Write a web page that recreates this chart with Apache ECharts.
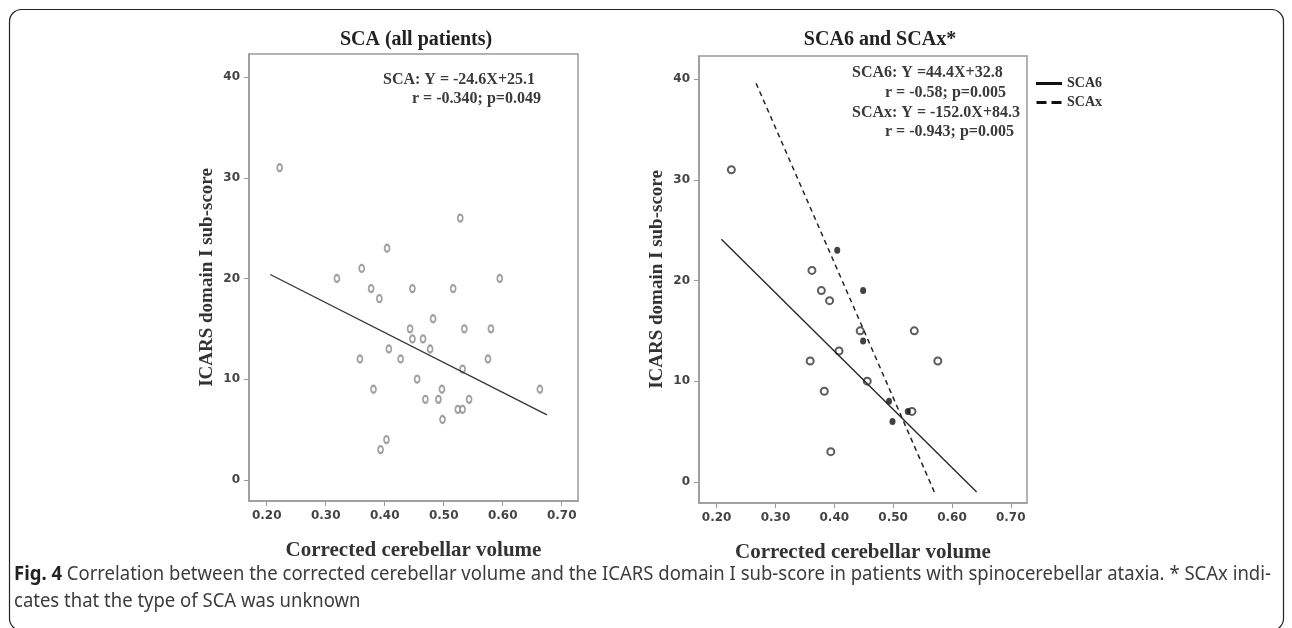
<!DOCTYPE html>
<html>
<head>
<meta charset="utf-8">
<script src="https://cdn.jsdelivr.net/npm/echarts@6/dist/echarts.min.js"></script>
<style>
html,body{margin:0;padding:0;background:#fff;}
#chart{width:1292px;height:628px;}
</style>
</head>
<body>
<div id="chart"></div>
<script>
// ---- Data ----
const xTicks = [0.2, 0.3, 0.4, 0.5, 0.6, 0.7];
const yTicks = [0, 10, 20, 30, 40];

// Left panel: all SCA patients
const allX = [0.222, 0.528, 0.404, 0.361, 0.319, 0.595, 0.377, 0.447, 0.516, 0.391,
              0.482, 0.443, 0.535, 0.580, 0.447, 0.465, 0.407, 0.477, 0.358, 0.427,
              0.575, 0.532, 0.455, 0.381, 0.497, 0.663, 0.469, 0.491, 0.543, 0.524,
              0.532, 0.498, 0.403, 0.393];
const allY = [31, 26, 23, 21, 20, 20, 19, 19, 19, 18,
              16, 15, 15, 15, 14, 14, 13, 13, 12, 12,
              12, 11, 10, 9, 9, 9, 8, 8, 8, 7,
              7, 6, 4, 3];
const allFitX = [0.206, 0.675];
const allFitY = [20.4, 6.45];

// Right panel: SCA6 (open) and SCAx (filled)
const sca6X = [0.225, 0.362, 0.378, 0.392, 0.444, 0.536, 0.408, 0.359, 0.576, 0.456, 0.383, 0.532, 0.394];
const sca6Y = [31, 21, 19, 18, 15, 15, 13, 12, 12, 10, 9, 7, 3];
const scaxX = [0.405, 0.449, 0.449, 0.493, 0.525, 0.499];
const scaxY = [23, 19, 14, 8, 7, 6];
const sca6FitX = [0.208, 0.642];
const sca6FitY = [24.1, -1.0];
const scaxFitX = [0.267, 0.570];
const scaxFitY = [39.6, -1.0];

const zip = (a, b) => a.map((v, i) => [v, b[i]]);

const chart = echarts.init(document.getElementById('chart'));

const serif = '"Liberation Serif", "Times New Roman", serif';
const frameColor = '#9a9a9a';

function xAxisFor(gi) {
  return {
    type: 'value', gridIndex: gi, min: 0.17, max: 0.7276,
    axisLine: { show: true, onZero: false, lineStyle: { color: frameColor, width: 1.5 } },
    axisTick: { show: true, customValues: xTicks, length: 5, lineStyle: { color: frameColor, width: 1 } },
    axisLabel: { customValues: xTicks, formatter: v => v.toFixed(2), fontFamily: 'DejaVu Sans',
                 fontWeight: 'bold', fontSize: 12, color: '#444', margin: 9 },
    splitLine: { show: false },
    name: 'Corrected cerebellar volume', nameLocation: 'middle', nameGap: 39,
    nameTextStyle: { fontFamily: serif, fontWeight: 'bold', fontSize: 21, color: '#333' }
  };
}
function yAxisFor(gi) {
  return {
    type: 'value', gridIndex: gi, min: -2.1, max: 42.3,
    axisLine: { show: true, onZero: false, lineStyle: { color: frameColor, width: 1.5 } },
    axisTick: { show: true, customValues: yTicks, length: 5, lineStyle: { color: frameColor, width: 1 } },
    axisLabel: { customValues: yTicks, fontFamily: 'DejaVu Sans', fontWeight: 'bold',
                 fontSize: 12, color: '#444', margin: 9 },
    splitLine: { show: false },
    name: 'ICARS domain I sub-score', nameLocation: 'middle', nameGap: 32,
    nameTextStyle: { fontFamily: serif, fontWeight: 'bold', fontSize: 19, color: '#333' }
  };
}

const annFont = 'bold 16px ' + serif;
function ann(text, x, y) {
  return { type: 'text', style: { text: text, x: x, y: y, font: annFont, fill: '#3a3a3a',
           textVerticalAlign: 'middle', verticalAlign: 'middle' } };
}

const captionLine1 = '{b|Fig. 4} Correlation between the corrected cerebellar volume and the ICARS domain I sub-score in patients with spinocerebellar ataxia. * SCAx indi-';
const captionLine2 = 'cates that the type of SCA was unknown';
const capFont = '20px "Noto Sans", sans-serif';
const capScale = 0.925;

chart.setOption({
  animation: false,
  backgroundColor: '#fff',
  title: [
    { text: 'SCA (all patients)', left: 411, top: 25, textAlign: 'center',
      textStyle: { fontFamily: serif, fontWeight: 'bold', fontSize: 20, color: '#222' } },
    { text: 'SCA6 and SCAx*', left: 875, top: 25, textAlign: 'center',
      textStyle: { fontFamily: serif, fontWeight: 'bold', fontSize: 20, color: '#222' } }
  ],
  grid: [
    { left: 249, top: 54, width: 329, height: 447, show: true, borderColor: frameColor, borderWidth: 1.5, backgroundColor: '#fff' },
    { left: 699, top: 56, width: 328, height: 447, show: true, borderColor: frameColor, borderWidth: 1.5, backgroundColor: '#fff' }
  ],
  xAxis: [xAxisFor(0), xAxisFor(1)],
  yAxis: [yAxisFor(0), yAxisFor(1)],
  legend: {
    orient: 'vertical', left: 1036, top: 76, padding: 0, itemWidth: 26, itemHeight: 3, itemGap: 4,
    data: [
      { name: 'SCA6', icon: 'path://M0,0H26V3H0Z' },
      { name: 'SCAx', icon: 'path://M0,0H10V3H0Z M15,0H25V3H15Z' }
    ],
    itemStyle: { color: '#111', borderWidth: 0 },
    textStyle: { fontFamily: serif, fontWeight: 'bold', fontSize: 14, color: '#333', lineHeight: 15 }
  },
  series: [
    { name: 'All patients', type: 'scatter', xAxisIndex: 0, yAxisIndex: 0,
      data: zip(allX, allY), symbol: 'emptyCircle', symbolSize: [5, 7],
      itemStyle: { color: '#8a8a8a', borderColor: '#8a8a8a', borderWidth: 1 } },
    { name: 'All fit', type: 'line', xAxisIndex: 0, yAxisIndex: 0,
      data: zip(allFitX, allFitY), symbol: 'none',
      itemStyle: { color: '#333' },
      lineStyle: { color: '#333', width: 1.3 } },
    { name: 'SCA6 patients', type: 'scatter', xAxisIndex: 1, yAxisIndex: 1,
      data: zip(sca6X, sca6Y), symbol: 'emptyCircle', symbolSize: 7,
      itemStyle: { color: '#333', borderColor: '#333', borderWidth: 1.6 } },
    { name: 'SCAx patients', type: 'scatter', xAxisIndex: 1, yAxisIndex: 1,
      data: zip(scaxX, scaxY), symbol: 'circle', symbolSize: [6, 7],
      itemStyle: { color: '#111' } },
    { name: 'SCA6', type: 'line', xAxisIndex: 1, yAxisIndex: 1,
      data: zip(sca6FitX, sca6FitY), symbol: 'none',
      itemStyle: { color: '#222' },
      lineStyle: { color: '#222', width: 1.3 } },
    { name: 'SCAx', type: 'line', xAxisIndex: 1, yAxisIndex: 1,
      data: zip(scaxFitX, scaxFitY), symbol: 'none',
      itemStyle: { color: '#222' },
      lineStyle: { color: '#222', width: 1.5, type: [5, 4] } }
  ],
  graphic: [
    { type: 'rect', shape: { x: 9.5, y: 9.5, width: 1274, height: 621, r: 12 },
      style: { fill: 'none', stroke: '#222', lineWidth: 1.2 }, z: -1 },
    ann('SCA: Y = -24.6X+25.1', 383, 80),
    ann('r = -0.340; p=0.049', 412, 99),
    ann('SCA6: Y =44.4X+32.8', 852, 73),
    ann('r = -0.58; p=0.005', 885, 93),
    ann('SCAx: Y = -152.0X+84.3', 852, 113),
    ann('r = -0.943; p=0.005', 885, 132),
    { type: 'text', x: 14, y: 574, scaleX: capScale,
      style: { text: captionLine1, x: 0, y: 0, font: capFont, fill: '#3c3c3c',
        textVerticalAlign: 'middle', verticalAlign: 'middle',
        rich: { b: { font: 'bold 20px "Noto Sans", sans-serif', fill: '#222' } } } },
    { type: 'text', x: 14, y: 601, scaleX: capScale,
      style: { text: captionLine2, x: 0, y: 0, font: capFont, fill: '#3c3c3c',
        textVerticalAlign: 'middle', verticalAlign: 'middle' } }
  ]
});
</script>
</body>
</html>
